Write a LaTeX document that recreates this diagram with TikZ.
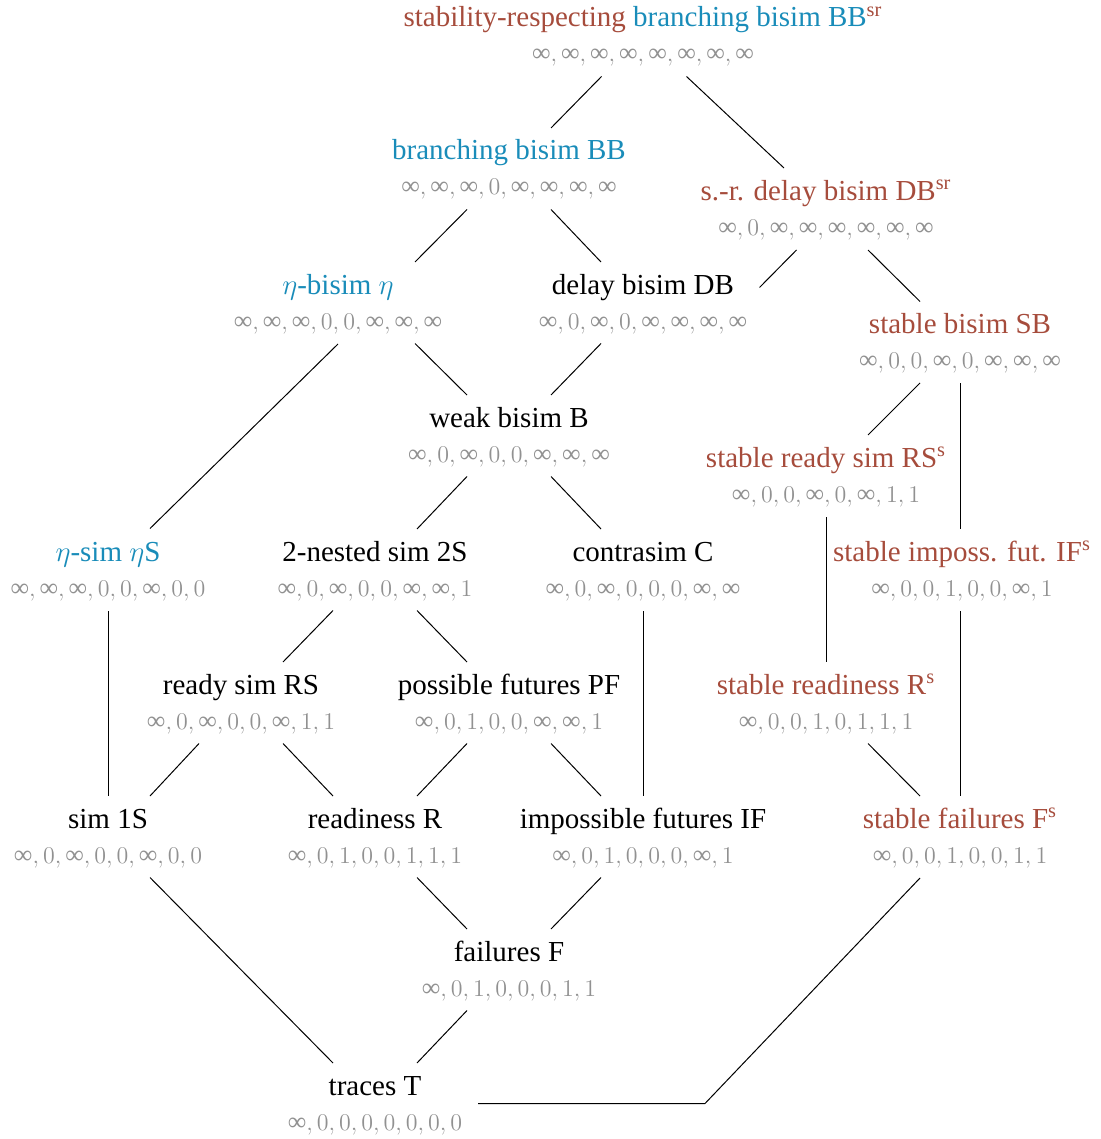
\documentclass[tikz,border=0pt]{standalone}
\usepackage{fontspec}
\setmainfont{Liberation Serif}
\usetikzlibrary{calc}
\definecolor{srred}{RGB}{166,76,60}
\definecolor{brblue}{RGB}{25,140,185}
\definecolor{vecgray}{RGB}{145,145,145}
\newcommand\oo{\mbox{∞}}
\newcommand\lstrut{\rule[-5.5pt]{0pt}{17.5pt}}
\newcommand\V[1]{\lstrut{\color{vecgray}\fontsize{13}{17.5}\selectfont$#1$}}
\newcommand\R[1]{\textcolor{srred}{#1}}
\newcommand\Bl[1]{\textcolor{brblue}{#1}}
\begin{document}
\begin{tikzpicture}[x=0.5pt,y=-0.5pt,
  eq/.style={inner sep=0pt,outer sep=0pt,align=center,font=\fontsize{14.5}{17.5}\selectfont},
  edge/.style={line width=0.5pt,black}]
\useasboundingbox (0,0) rectangle (1100,1139);

\node[eq] (BBsr) at (643,38)  {\lstrut\R{stability-respecting} \Bl{branching bisim BB}\R{\textsuperscript{sr}}\\ \V{\oo,\oo,\oo,\oo,\oo,\oo,\oo,\oo}};
\node[eq] (BB)   at (509,171) {\lstrut\Bl{branching bisim BB}\\ \V{\oo,\oo,\oo,0,\oo,\oo,\oo,\oo}};
\node[eq] (DBsr) at (826,211) {\lstrut\R{s.-r. delay bisim DB\textsuperscript{sr}}\\ \V{\oo,0,\oo,\oo,\oo,\oo,\oo,\oo}};
\node[eq] (eta)  at (338,305) {\lstrut\Bl{$\eta$-bisim $\eta$}\\ \V{\oo,\oo,\oo,0,0,\oo,\oo,\oo}};
\node[eq] (DB)   at (643,305) {\lstrut delay bisim DB\\ \V{\oo,0,\oo,0,\oo,\oo,\oo,\oo}};
\node[eq] (SB)   at (960,344) {\lstrut\R{stable bisim SB}\\ \V{\oo,0,0,\oo,0,\oo,\oo,\oo}};
\node[eq] (B)    at (509,438) {\lstrut weak bisim B\\ \V{\oo,0,\oo,0,0,\oo,\oo,\oo}};
\node[eq] (RSs)  at (826,478) {\lstrut\R{stable ready sim RS\textsuperscript{s}}\\ \V{\oo,0,0,\oo,0,\oo,1,1}};
\node[eq] (etaS) at (108,572) {\lstrut\Bl{$\eta$-sim $\eta$S}\\ \V{\oo,\oo,\oo,0,0,\oo,0,0}};
\node[eq] (twoS) at (375,572) {\lstrut 2-nested sim 2S\\ \V{\oo,0,\oo,0,0,\oo,\oo,1}};
\node[eq] (C)    at (643,572) {\lstrut contrasim C\\ \V{\oo,0,\oo,0,0,0,\oo,\oo}};
\node[eq] (IFs)  at (962,572) {\lstrut\R{stable imposs. fut. IF\textsuperscript{s}}\\ \V{\oo,0,0,1,0,0,\oo,1}};
\node[eq] (RS)   at (241,705) {\lstrut ready sim RS\\ \V{\oo,0,\oo,0,0,\oo,1,1}};
\node[eq] (PF)   at (509,705) {\lstrut possible futures PF\\ \V{\oo,0,1,0,0,\oo,\oo,1}};
\node[eq] (Rs)   at (826,705) {\lstrut\R{stable readiness R\textsuperscript{s}}\\ \V{\oo,0,0,1,0,1,1,1}};
\node[eq] (oneS) at (108,839) {\lstrut sim 1S\\ \V{\oo,0,\oo,0,0,\oo,0,0}};
\node[eq] (R)    at (375,839) {\lstrut readiness R\\ \V{\oo,0,1,0,0,1,1,1}};
\node[eq] (IF)   at (643,839) {\lstrut impossible futures IF\\ \V{\oo,0,1,0,0,0,\oo,1}};
\node[eq] (Fs)   at (960,839) {\lstrut\R{stable failures F\textsuperscript{s}}\\ \V{\oo,0,0,1,0,0,1,1}};
\node[eq] (F)    at (509,972) {\lstrut failures F\\ \V{\oo,0,1,0,0,0,1,1}};
\node[eq] (T)    at (375,1106) {\lstrut traces T\\ \V{\oo,0,0,0,0,0,0,0}};

\draw[edge] ($(BBsr)+(-41.5,38.5)$) -- ($(BB)+(42,-43)$);
\draw[edge] ($(BBsr)+(43.5,38.5)$) -- ($(DBsr)+(-42,-43)$);
\draw[edge] ($(BB)+(-42,38.5)$) -- ($(eta)+(77,-43)$);
\draw[edge] ($(BB)+(42,38.5)$) -- ($(DB)+(-42,-43)$);
\draw[edge] ($(DBsr)+(-29.5,39)$) -- ($(DB)+(116.5,-17.5)$);
\draw[edge] ($(DBsr)+(42,39)$) -- ($(SB)+(-40,-42.5)$);
\draw[edge] ($(eta)+(77,38.5)$) -- ($(B)+(-42,-43)$);
\draw[edge] ($(DB)+(-42,38.5)$) -- ($(B)+(42,-43)$);
\draw[edge] ($(eta)+(0,39)$) -- ($(etaS)+(42,-43.5)$);
\draw[edge] ($(SB)+(-40,39)$) -- ($(RSs)+(42,-43)$);
\draw[edge] ($(SB)+(0,39)$) -- ($(IFs)+(-2,-43)$);
\draw[edge] ($(B)+(-42,38.5)$) -- ($(twoS)+(42,-43)$);
\draw[edge] ($(B)+(42,38.5)$) -- ($(C)+(-42,-43)$);
\draw[edge] ($(RSs)+(0,39)$) -- ($(Rs)+(0,-43)$);
\draw[edge] ($(C)+(0,39)$) -- ($(IF)+(0,-43)$);
\draw[edge] ($(twoS)+(-42,38.5)$) -- ($(RS)+(42,-43)$);
\draw[edge] ($(twoS)+(42,38.5)$) -- ($(PF)+(-42,-43)$);
\draw[edge] ($(IFs)+(-2,39)$) -- ($(Fs)+(0,-43)$);
\draw[edge] ($(etaS)+(0,39)$) -- ($(oneS)+(0,-43)$);
\draw[edge] ($(RS)+(-42,38.5)$) -- ($(oneS)+(42,-43)$);
\draw[edge] ($(RS)+(42,38.5)$) -- ($(R)+(-42,-43)$);
\draw[edge] ($(PF)+(-42,38.5)$) -- ($(R)+(42,-43)$);
\draw[edge] ($(PF)+(42,38.5)$) -- ($(IF)+(-42,-43)$);
\draw[edge] ($(Rs)+(42,38.5)$) -- ($(Fs)+(-40,-43)$);
\draw[edge] ($(oneS)+(42,38.5)$) -- ($(T)+(-42,-43)$);
\draw[edge] ($(R)+(42,38.5)$) -- ($(F)+(-42,-43)$);
\draw[edge] ($(IF)+(-42,38.5)$) -- ($(F)+(42,-43)$);
\draw[edge] ($(F)+(-42,38.5)$) -- ($(T)+(42,-43)$);
\draw[edge] ($(Fs)+(-40,39)$) -- ($(T)+(330,-2.5)$) -- ($(T)+(103,-2.5)$);
\end{tikzpicture}
\end{document}
